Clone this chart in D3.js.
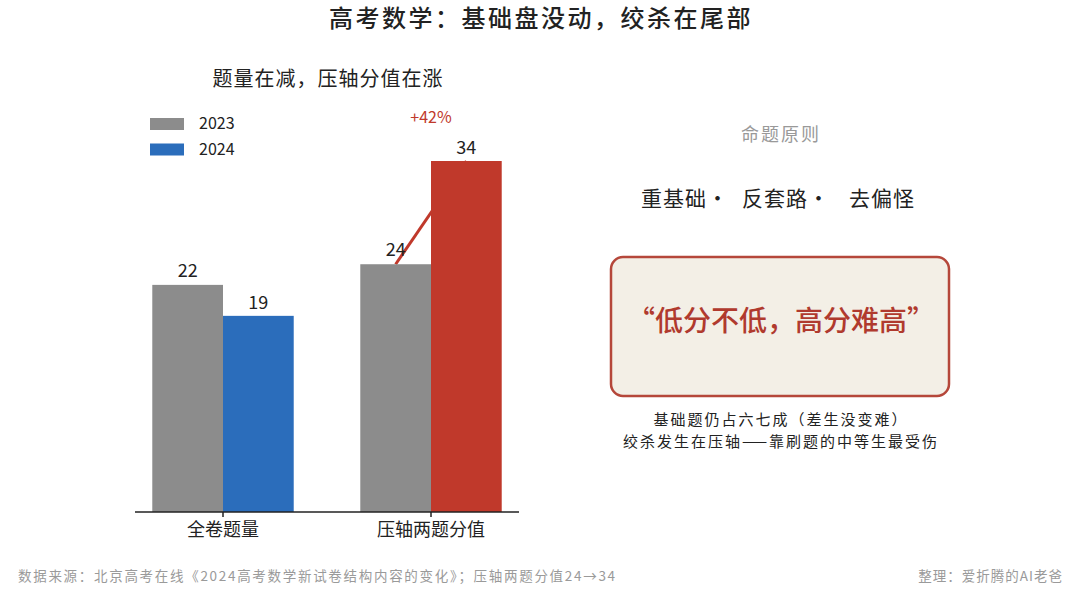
<!DOCTYPE html>
<html>
<head>
<meta charset="utf-8">
<script src="https://cdn.jsdelivr.net/npm/d3@7"></script>
<style>
  body { margin: 0; background: #fff; }
  svg { display: block; font-family: "Noto Sans CJK SC", "Noto Sans", sans-serif; }
</style>
</head>
<body>
<svg width="1080" height="589"></svg>
<script>
// данные
const categories = ["全卷题量", "压轴两题分值"];
const years = ["2023", "2024"];
const values2023 = [22, 24];
const values2024 = [19, 34];
const colors2024 = ["#2b6dbb", "#c0392b"];
const legendColors = ["#8c8c8c", "#2b6dbb"];
const principles = ["重基础·", "反套路·", "去偏怪"];
const notes = ["基础题仍占六七成（差生没变难）", "绞杀发生在压轴——靠刷题的中等生最受伤"];

const svg = d3.select("svg");
const gray = "#8c8c8c";

// заголовки
svg.append("text").attr("x", 541).attr("y", 27).attr("text-anchor", "middle")
    .style("font-size", "24px").style("font-weight", 500).style("fill", "#222")
    .style("letter-spacing", "2.5px")
    .text("高考数学：基础盘没动，绞杀在尾部");
svg.append("text").attr("x", 328).attr("y", 86).attr("text-anchor", "middle")
    .style("font-size", "20px").style("fill", "#222").style("letter-spacing", "1px")
    .text("题量在减，压轴分值在涨");

// шкалы
const scX = d3.scaleBand().domain(categories).range([119, 535])
    .paddingInner(0.32).paddingOuter(0.16);
const scSub = d3.scaleBand().domain(years).range([0, scX.bandwidth()]);
const scY = d3.scaleLinear().domain([0, 34]).range([512, 161]);

const rows = categories.map((c, i) => ({cat: c, v23: values2023[i], v24: values2024[i], c24: colors2024[i]}));

// линия роста (под красным столбцом)
const r2 = rows[1];
svg.append("line")
    .attr("x1", scX(r2.cat) + scSub("2023") + scSub.bandwidth() / 2)
    .attr("y1", scY(r2.v23))
    .attr("x2", scX(r2.cat) + scSub("2024") + scSub.bandwidth() / 2)
    .attr("y2", scY(r2.v24))
    .style("stroke", "#c0392b").style("stroke-width", 3);

const g = svg.selectAll(".grp").data(rows).enter().append("g")
    .attr("transform", d => `translate(${scX(d.cat)},0)`);

g.append("rect")
    .attr("x", scSub("2023")).attr("y", d => scY(d.v23))
    .attr("width", scSub.bandwidth()).attr("height", d => scY(0) - scY(d.v23))
    .style("fill", gray);
g.append("rect")
    .attr("x", scSub("2024")).attr("y", d => scY(d.v24))
    .attr("width", scSub.bandwidth()).attr("height", d => scY(0) - scY(d.v24))
    .style("fill", d => d.c24);

g.append("text")
    .attr("x", scSub("2023") + scSub.bandwidth() / 2).attr("y", d => scY(d.v23) - 8)
    .attr("text-anchor", "middle").style("font-size", "18px").style("fill", "#222")
    .text(d => d.v23);
g.append("text")
    .attr("x", scSub("2024") + scSub.bandwidth() / 2).attr("y", d => scY(d.v24) - 7)
    .attr("text-anchor", "middle").style("font-size", "18px").style("fill", "#222")
    .text(d => d.v24);

// подпись роста
const pct = Math.round((r2.v24 - r2.v23) / r2.v23 * 100);
svg.append("text")
    .attr("x", scX(r2.cat) + scX.bandwidth() / 2).attr("y", 123)
    .attr("text-anchor", "middle").style("font-size", "16px").style("fill", "#c0392b")
    .text(`+${pct}%`);

// ось X
const axisX = d3.axisBottom(scX).tickSize(5).tickSizeOuter(0).tickPadding(6);
const ax = svg.append("g").attr("transform", `translate(0,${scY(0)})`).call(axisX);
ax.select(".domain").remove();
ax.append("line").attr("x1", 135).attr("x2", 519).style("stroke", "#222").style("stroke-width", 1.5);
ax.selectAll(".tick line").style("stroke", "#222").style("stroke-width", 1.5);
ax.selectAll(".tick text").style("font-size", "18px").style("fill", "#222")
    .style("font-family", "'Noto Sans CJK SC', sans-serif");

// легенда
const leg = svg.selectAll(".leg").data(years).enter().append("g")
    .attr("transform", (d, i) => `translate(150,${118 + i * 25.5})`);
leg.append("rect").attr("width", 34).attr("height", 12).style("fill", (d, i) => legendColors[i]);
leg.append("text").attr("x", 49).attr("y", 11).style("font-size", "16px").style("fill", "#222").text(d => d);

// правая панель
svg.append("text").attr("x", 781).attr("y", 141).attr("text-anchor", "middle")
    .style("font-size", "18px").style("fill", "#999").style("letter-spacing", "2px")
    .text("命题原则");
svg.selectAll(".pr").data(principles).enter().append("text")
    .attr("x", (d, i) => [685, 786, 882][i]).attr("y", 206).attr("text-anchor", "middle")
    .style("font-size", "21px").style("fill", "#222").style("letter-spacing", "1px")
    .text(d => d);

svg.append("rect").attr("x", 611).attr("y", 257).attr("width", 338).attr("height", 139)
    .attr("rx", 12).style("fill", "#f3efe6").style("stroke", "#b5473a").style("stroke-width", 2.5);
svg.append("text").attr("x", 781).attr("y", 331).attr("text-anchor", "middle")
    .style("font-size", "28px").style("font-weight", 500).style("fill", "#b03a2e")
    .text("“低分不低，高分难高”");

svg.selectAll(".note").data(notes).enter().append("text")
    .attr("x", 781).attr("y", (d, i) => 425 + i * 22).attr("text-anchor", "middle")
    .style("font-size", "15px").style("fill", "#222").style("letter-spacing", "2px")
    .text(d => d);

// подвал
svg.append("text").attr("x", 18).attr("y", 581)
    .style("font-size", "13.5px").style("fill", "#9a9a9a").style("letter-spacing", "1.7px")
    .text("数据来源：北京高考在线《2024高考数学新试卷结构内容的变化》；压轴两题分值24→34");
svg.append("text").attr("x", 1063).attr("y", 581).attr("text-anchor", "end")
    .style("font-size", "13.5px").style("fill", "#9a9a9a").style("letter-spacing", "1px")
    .text("整理：爱折腾的AI老爸");
</script>
</body>
</html>
